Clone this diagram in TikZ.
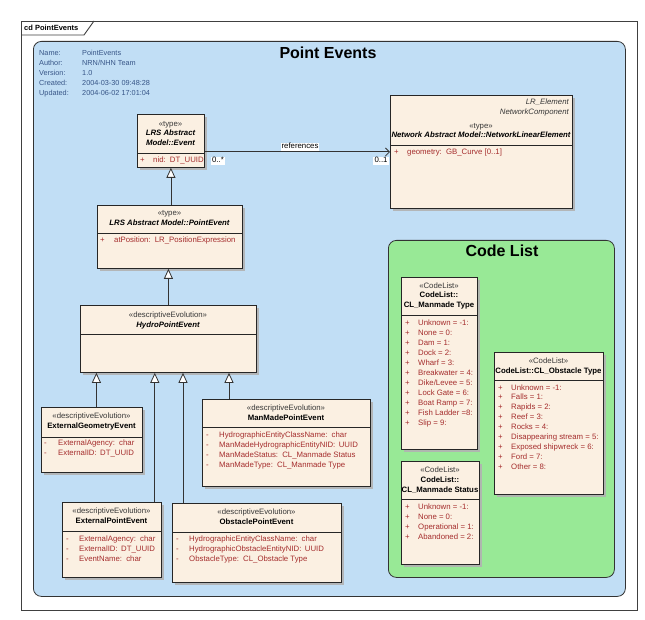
\documentclass[tikz,border=0pt]{standalone}
\usepackage{fontspec}
\setmainfont{Liberation Sans}
\usetikzlibrary{arrows.meta,shadows}
\definecolor{pkgblue}{RGB}{193,222,245}
\definecolor{pkggreen}{RGB}{152,233,150}
\definecolor{cream}{RGB}{251,240,226}
\definecolor{attrred}{RGB}{165,45,45}
\definecolor{infoblue}{RGB}{55,85,135}
\definecolor{stereo}{RGB}{55,55,55}
\begin{document}
\begin{tikzpicture}[x=1pt,y=-1pt,
  cls/.style={draw=black!85, line width=0.8pt, fill=cream, anchor=north west, inner sep=0pt,
    drop shadow={shadow xshift=2.5pt, shadow yshift=-2.5pt, fill=black!30, opacity=0.9}},
  pkg/.style={draw=black!80, line width=0.8pt, anchor=north west, inner sep=0pt, rounded corners=8pt},
  txt/.style={inner sep=0pt, font=\fontsize{7.8}{9}\selectfont, text height=5.6pt, text depth=1.6pt},
  st/.style={txt, text=stereo},
  nmi/.style={txt, font=\fontsize{7.8}{9}\selectfont\bfseries\itshape},
  nmb/.style={txt, font=\fontsize{7.8}{9}\selectfont\bfseries},
  att/.style={txt, text=attrred, anchor=west},
  info/.style={inner sep=0pt, anchor=west, text=infoblue, font=\fontsize{7.3}{9}\selectfont, text height=5.4pt, text depth=1.5pt},
  ttl/.style={inner sep=0pt, font=\fontsize{16}{18}\selectfont\bfseries},
  lbl/.style={txt, fill=white, inner xsep=1pt},
  divl/.style={draw=black!85, line width=0.8pt},
  gen/.style={draw=black!80, line width=0.8pt, -{Triangle[length=10pt,width=9pt,fill=white]}},
  assoc/.style={draw=black!80, line width=0.8pt, -{Straight Barb[length=4pt,width=8pt]}}
]
\fill[white] (0,0) rectangle (645,620);
\useasboundingbox (0,0) rectangle (645,620);

% outer diagram frame
\draw[black!75, line width=0.9pt] (21,21) rectangle (637,610);
\draw[black!75, line width=0.9pt] (21,35) -- (84,35) -- (94,21);
\node[inner sep=0pt, anchor=west, font=\fontsize{7.5}{9}\selectfont\bfseries] (tab) at (24,28) {cd PointEvents};

% Point Events package
\node[pkg, fill=pkgblue, minimum width=592pt, minimum height=555pt] (pkgpe) at (33,41) {};
\node[ttl] (pkgpeT) at (328,53) {Point Events};

\node[info] (i1) at (39,54) {Name:};
\node[info] (i2) at (39,64) {Author:};
\node[info] (i3) at (39,74) {Version:};
\node[info] (i4) at (39,84) {Created:};
\node[info] (i5) at (39,94) {Updated:};
\node[info] (v1) at (82,54) {PointEvents};
\node[info] (v2) at (82,64) {NRN/NHN Team};
\node[info] (v3) at (82,74) {1.0};
\node[info] (v4) at (82,84) {2004-03-30 09:48:28};
\node[info] (v5) at (82,94) {2004-06-02 17:01:04};

% Code List package
\node[pkg, fill=pkggreen, minimum width=226pt, minimum height=337pt] (pkgcl) at (388,240) {};
\node[ttl] (pkgclT) at (502,251) {Code List};

% ---------- LRS Abstract Model::Event
\node[cls, minimum width=67pt, minimum height=53pt] (ev) at (137,114) {};
\draw[divl] (137,153) -- (204,153);
\node[st] (evS) at (170.5,125) {«type»};
\node[nmi] (evN1) at (170.5,133.5) {LRS Abstract};
\node[nmi] (evN2) at (170.5,143.5) {Model::Event};
\node[att] (evM1) at (140,161) {+};
\node[att] (evA1) at (153,161) {nid:\, DT\_UUID};

% ---------- NetworkLinearElement
\node[cls, minimum width=182pt, minimum height=113pt] (nle) at (390,95) {};
\draw[divl] (390,145) -- (572,145);
\node[txt, anchor=east, font=\fontsize{7.8}{9}\selectfont\itshape, text=stereo] (nleT1) at (569,103) {LR\_Element};
\node[txt, anchor=east, font=\fontsize{7.8}{9}\selectfont\itshape, text=stereo] (nleT2) at (569,113) {NetworkComponent};
\node[st] (nleS) at (481,126.5) {«type»};
\node[nmi] (nleN) at (481,135.5) {Network Abstract Model::NetworkLinearElement};
\node[att] (nleM1) at (394,153) {+};
\node[att] (nleA1) at (407,153) {geometry:\, GB\_Curve [0..1]};

% ---------- PointEvent
\node[cls, minimum width=145pt, minimum height=63pt] (pe) at (97,205) {};
\draw[divl] (97,233) -- (242,233);
\node[st] (peS) at (169.5,214) {«type»};
\node[nmi] (peN) at (169.5,223.5) {LRS Abstract Model::PointEvent};
\node[att] (peM1) at (100,241) {+};
\node[att] (peA1) at (114,241) {atPosition:\, LR\_PositionExpression};

% ---------- HydroPointEvent
\node[cls, minimum width=176pt, minimum height=67pt] (hpe) at (80,305) {};
\draw[divl] (80,334) -- (256,334);
\node[st] (hpeS) at (168,315) {«descriptiveEvolution»};
\node[nmi] (hpeN) at (168,325) {HydroPointEvent};

% ---------- ExternalGeometryEvent
\node[cls, minimum width=101pt, minimum height=65pt] (ege) at (41,407) {};
\draw[divl] (41,437) -- (142,437);
\node[st] (egeS) at (91.5,416) {«descriptiveEvolution»};
\node[nmb] (egeN) at (91.5,426) {ExternalGeometryEvent};
\node[att] (egeM1) at (44,443) {-};
\node[att] (egeA1) at (58,443) {ExternalAgency:\, char};
\node[att] (egeM2) at (44,453) {-};
\node[att] (egeA2) at (58,453) {ExternalID:\, DT\_UUID};

% ---------- ManMadePointEvent
\node[cls, minimum width=168pt, minimum height=87pt] (mpe) at (202,399) {};
\draw[divl] (202,427) -- (370,427);
\node[st] (mpeS) at (286,408) {«descriptiveEvolution»};
\node[nmb] (mpeN) at (286,418) {ManMadePointEvent};
\node[att] (mpeM1) at (206,435) {-};
\node[att] (mpeA1) at (219,435) {HydrographicEntityClassName:\, char};
\node[att] (mpeM2) at (206,445) {-};
\node[att] (mpeA2) at (219,445) {ManMadeHydrographicEntityNID:\, UUID};
\node[att] (mpeM3) at (206,455) {-};
\node[att] (mpeA3) at (219,455) {ManMadeStatus:\, CL\_Manmade Status};
\node[att] (mpeM4) at (206,465) {-};
\node[att] (mpeA4) at (219,465) {ManMadeType:\, CL\_Manmade Type};

% ---------- ExternalPointEvent
\node[cls, minimum width=99pt, minimum height=75pt] (epe) at (62,502) {};
\draw[divl] (62,531) -- (161,531);
\node[st] (epeS) at (111.5,511) {«descriptiveEvolution»};
\node[nmb] (epeN) at (111.5,521) {ExternalPointEvent};
\node[att] (epeM1) at (66,539) {-};
\node[att] (epeA1) at (79,539) {ExternalAgency:\, char};
\node[att] (epeM2) at (66,549) {-};
\node[att] (epeA2) at (79,549) {ExternalID:\, DT\_UUID};
\node[att] (epeM3) at (66,559) {-};
\node[att] (epeA3) at (79,559) {EventName:\, char};

% ---------- ObstaclePointEvent
\node[cls, minimum width=169pt, minimum height=79pt] (ope) at (172,503) {};
\draw[divl] (172,532) -- (341,532);
\node[st] (opeS) at (256.5,512) {«descriptiveEvolution»};
\node[nmb] (opeN) at (256.5,522) {ObstaclePointEvent};
\node[att] (opeM1) at (176,539) {-};
\node[att] (opeA1) at (189,539) {HydrographicEntityClassName:\, char};
\node[att] (opeM2) at (176,549) {-};
\node[att] (opeA2) at (189,549) {HydrographicObstacleEntityNID:\, UUID};
\node[att] (opeM3) at (176,559) {-};
\node[att] (opeA3) at (189,559) {ObstacleType:\, CL\_Obstacle Type};

% ---------- CL_Manmade Type
\node[cls, minimum width=76pt, minimum height=172pt] (cmt) at (401,277) {};
\draw[divl] (401,315) -- (477,315);
\node[st] (cmtS) at (439,286) {«CodeList»};
\node[nmb] (cmtN1) at (439,296) {CodeList::};
\node[nmb] (cmtN2) at (439,306) {CL\_Manmade Type};
\foreach \t [count=\i from 0] in {Unknown = -1:, None = 0:, Dam = 1:, Dock = 2:, Wharf = 3:, Breakwater = 4:, Dike/Levee = 5:, Lock Gate = 6:, Boat Ramp = 7:, Fish Ladder =8:, Slip = 9:}{
  \node[att] (cmtM\i) at (405,323+10*\i) {+};
  \node[att] (cmtA\i) at (418,323+10*\i) {\t};
}

% ---------- CL_Obstacle Type
\node[cls, minimum width=109pt, minimum height=142pt] (cot) at (494,352) {};
\draw[divl] (494,380) -- (603,380);
\node[st] (cotS) at (548.5,361) {«CodeList»};
\node[nmb] (cotN) at (548.5,371) {CodeList::CL\_Obstacle Type};
\foreach \t [count=\i from 0] in {Unknown = -1:, Falls = 1:, Rapids = 2:, Reef = 3:, Rocks = 4:, Disappearing stream = 5:, Exposed shipwreck = 6:, Ford = 7:, Other = 8:}{
  \node[att] (cotM\i) at (498,388+9.875*\i) {+};
  \node[att] (cotA\i) at (511,388+9.875*\i) {\t};
}

% ---------- CL_Manmade Status
\node[cls, minimum width=78pt, minimum height=103pt] (cms) at (401,461) {};
\draw[divl] (401,499) -- (479,499);
\node[st] (cmsS) at (440,470) {«CodeList»};
\node[nmb] (cmsN1) at (440,480) {CodeList::};
\node[nmb] (cmsN2) at (440,490) {CL\_Manmade Status};
\foreach \t [count=\i from 0] in {Unknown = -1:, None = 0:, Operational = 1:, Abandoned = 2:}{
  \node[att] (cmsM\i) at (405,507+10*\i) {+};
  \node[att] (cmsA\i) at (418,507+10*\i) {\t};
}

% ---------- connectors
\draw[assoc] (ev.east |- nle.west) -- (nle.west);
\node[lbl] (refL) at (300,147) {references};
\node[lbl] (refS) at (218,161) {0..*};
\node[lbl] (refT) at (381,161) {0..1};

\draw[gen] (pe.north -| ev.south) -- (ev.south);
\draw[gen] (hpe.north) -- (hpe.north |- pe.south);

\coordinate (g1) at ([xshift=4.5pt]ege.north);
\coordinate (g2) at ([xshift=-7pt]epe.north east);
\coordinate (g3) at ([xshift=11pt]ope.north west);
\coordinate (g4) at ([xshift=27pt]mpe.north west);
\draw[gen] (g1) -- (g1 |- hpe.south);
\draw[gen] (g2) -- (g2 |- hpe.south);
\draw[gen] (g3) -- (g3 |- hpe.south);
\draw[gen] (g4) -- (g4 |- hpe.south);
\end{tikzpicture}
\end{document}
